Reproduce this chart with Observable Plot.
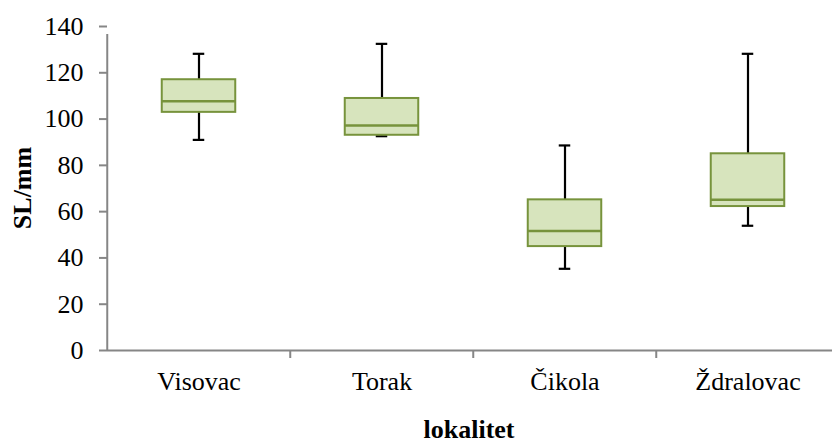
<!DOCTYPE html>
<html>
<head>
<meta charset="utf-8">
<script src="https://cdn.jsdelivr.net/npm/d3@7"></script>
<script src="https://cdn.jsdelivr.net/npm/@observablehq/plot@0.6"></script>
<style>
  html, body { margin: 0; padding: 0; background: #fff; }
  #chart svg { display: block; }
  #chart svg, #chart svg text { font-family: "Liberation Serif", "Times New Roman", serif !important; }
</style>
</head>
<body>
<div id="chart"></div>
<script>
const categories = ["Visovac", "Torak", "Čikola", "Ždralovac"];
const minValues    = [91.0, 92.6, 35.3, 53.9];
const q1Values     = [102.9, 93.0, 44.9, 62.2];
const medianValues = [107.7, 97.2, 51.6, 65.1];
const q3Values     = [117.0, 108.9, 65.1, 85.0];
const maxValues    = [128.2, 132.5, 88.6, 128.2];
const yTicks = [0, 20, 40, 60, 80, 100, 120, 140];

const data = categories.map((c, i) => ({
  cat: c, min: minValues[i], q1: q1Values[i], med: medianValues[i], q3: q3Values[i], max: maxValues[i]
}));

const W = 832, H = 443;
const xRange = [106, 840];
const bw = (xRange[1] - xRange[0]) / categories.length;
const boxW = 74, capW = 12;
const boxInset = (bw - boxW) / 2;
const capInset = (bw - capW) / 2;
const axisGray = "#868686";
const fontFam = "Liberation Serif, Times New Roman, serif";

const chart = Plot.plot({
  width: W,
  height: H,
  marginLeft: 107,
  marginRight: 0,
  marginTop: 26,
  marginBottom: 93,
  style: { fontFamily: fontFam, fontSize: "26px", color: "#000", background: "#fff" },
  x: { type: "band", domain: categories, range: xRange, padding: 0 },
  y: { domain: [0, 140], ticks: yTicks },
  marks: [
    Plot.axisY({ ticks: yTicks, tickSize: 8, tickPadding: 16, stroke: axisGray, strokeWidth: 2, fill: "#000", fontSize: 26, label: null }),
    Plot.axisX({ tickSize: 0, tickPadding: 21, fill: "#000", fontSize: 26, label: null }),
    // y axis line (left edge of first band)
    Plot.ruleX([categories[0]], { x: d => d, dx: -bw / 2, y1: 0, y2: 140, insetBottom: -8, stroke: axisGray, strokeWidth: 2 }),
    // x category boundary ticks
    Plot.ruleX(categories.slice(1), { x: d => d, dx: -bw / 2, y1: 0, y2: 0, insetBottom: -8, stroke: axisGray, strokeWidth: 2 }),
    Plot.ruleY([0], { stroke: axisGray, strokeWidth: 2 }),
    // whiskers
    Plot.ruleX(data, { x: "cat", y1: "min", y2: "q1", stroke: "#000", strokeWidth: 2.2 }),
    Plot.ruleX(data, { x: "cat", y1: "q3", y2: "max", stroke: "#000", strokeWidth: 2.2 }),
    Plot.tickY(data, { x: "cat", y: "min", insetLeft: capInset, insetRight: capInset, stroke: "#000", strokeWidth: 2.2 }),
    Plot.tickY(data, { x: "cat", y: "max", insetLeft: capInset, insetRight: capInset, stroke: "#000", strokeWidth: 2.2 }),
    // boxes
    Plot.barY(data, { x: "cat", y1: "q1", y2: "q3", insetLeft: boxInset, insetRight: boxInset, fill: "#d7e4bd", stroke: "#77933c", strokeWidth: 2 }),
    Plot.tickY(data, { x: "cat", y: "med", insetLeft: boxInset, insetRight: boxInset, stroke: "#77933c", strokeWidth: 2.5 })
  ]
});

const svg = d3.select(chart);
svg.append("text")
  .attr("transform", "translate(31,188) rotate(-90)")
  .attr("text-anchor", "middle")
  .attr("font-family", fontFam)
  .attr("font-size", 26)
  .attr("font-weight", "bold")
  .attr("fill", "#000")
  .text("SL/mm");
svg.append("text")
  .attr("x", 469)
  .attr("y", 438)
  .attr("text-anchor", "middle")
  .attr("font-family", fontFam)
  .attr("font-size", 26)
  .attr("font-weight", "bold")
  .attr("fill", "#000")
  .text("lokalitet");

document.getElementById("chart").appendChild(chart);
</script>
</body>
</html>
